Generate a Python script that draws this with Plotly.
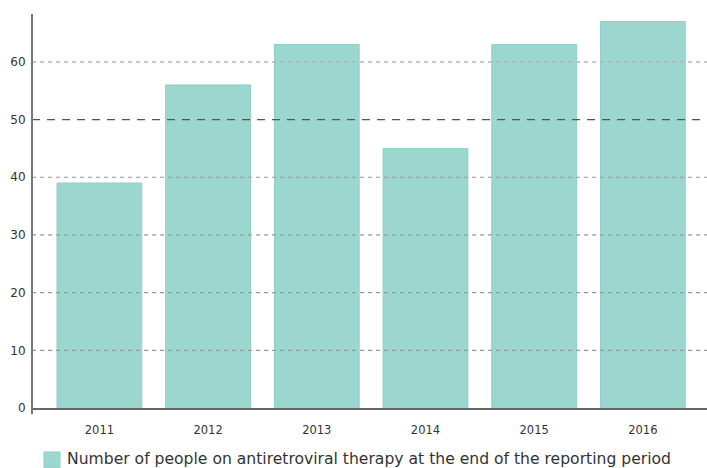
import plotly.graph_objects as go

years = ["2011", "2012", "2013", "2014", "2015", "2016"]
values = [39, 56, 63, 45, 63, 67]
series_name = "Number of people on antiretroviral therapy at the end of the reporting period"
y_ticks = [0, 10, 20, 30, 40, 50, 60]
bar_color = "#9bd7cf"

fig = go.Figure()
fig.add_trace(go.Bar(
    x=years, y=values, name=series_name,
    marker=dict(color=bar_color, line=dict(color="#8dd0c6", width=1)),
    showlegend=False,
))

shapes = []
for t in y_ticks[1:]:
    if t == 50:
        line = dict(color="#555555", width=1.2, dash="8px,7px")
    elif t == 60:
        line = dict(color="#b5b5b5", width=1.5, dash="4px,4px")
    else:
        line = dict(color="#999999", width=1.2, dash="4px,4px")
    shapes.append(dict(type="line", xref="paper", yref="y", x0=0, x1=1, y0=t, y1=t,
                       line=line, layer="above"))
# y axis line extending slightly below zero
shapes.append(dict(type="line", xref="paper", yref="paper", x0=0, x1=0, y0=-0.016, y1=1,
                   line=dict(color="#777777", width=2), layer="above"))
# legend swatch
shapes.append(dict(type="rect", xref="paper", yref="paper", x0=0.0178, x1=0.0415,
                   y0=-0.1523, y1=-0.1117, fillcolor=bar_color,
                   line=dict(color="#8dd0c6", width=1)))

fig.update_layout(
    width=707, height=468,
    margin=dict(l=32, r=0, t=14, b=60, autoexpand=False),
    paper_bgcolor="white", plot_bgcolor="white",
    font=dict(family="DejaVu Sans", color="#333333", size=11),
    bargap=0.22,
    shapes=shapes,
    annotations=[dict(text=series_name, xref="paper", yref="paper", x=0.0489, y=-0.1294,
                      xanchor="left", yanchor="middle", showarrow=False,
                      font=dict(size=15.6, color="#333333"))],
    xaxis=dict(type="category", range=[-0.62, 5.59], showgrid=False, automargin=False,
               showline=True, linecolor="#666666", linewidth=2,
               ticks="outside", ticklen=10, tickcolor="rgba(0,0,0,0)",
               tickfont=dict(size=11.5)),
    yaxis=dict(range=[0, 68.3], tickvals=y_ticks, showgrid=False, zeroline=False,
               automargin=False, showline=False, ticks="outside", ticklen=3,
               tickcolor="rgba(0,0,0,0)", tickfont=dict(size=12)),
    showlegend=False,
)

fig.write_html("out.html", config={"displayModeBar": False},
               post_script="document.body.style.margin='0';document.body.style.overflow='hidden';")
